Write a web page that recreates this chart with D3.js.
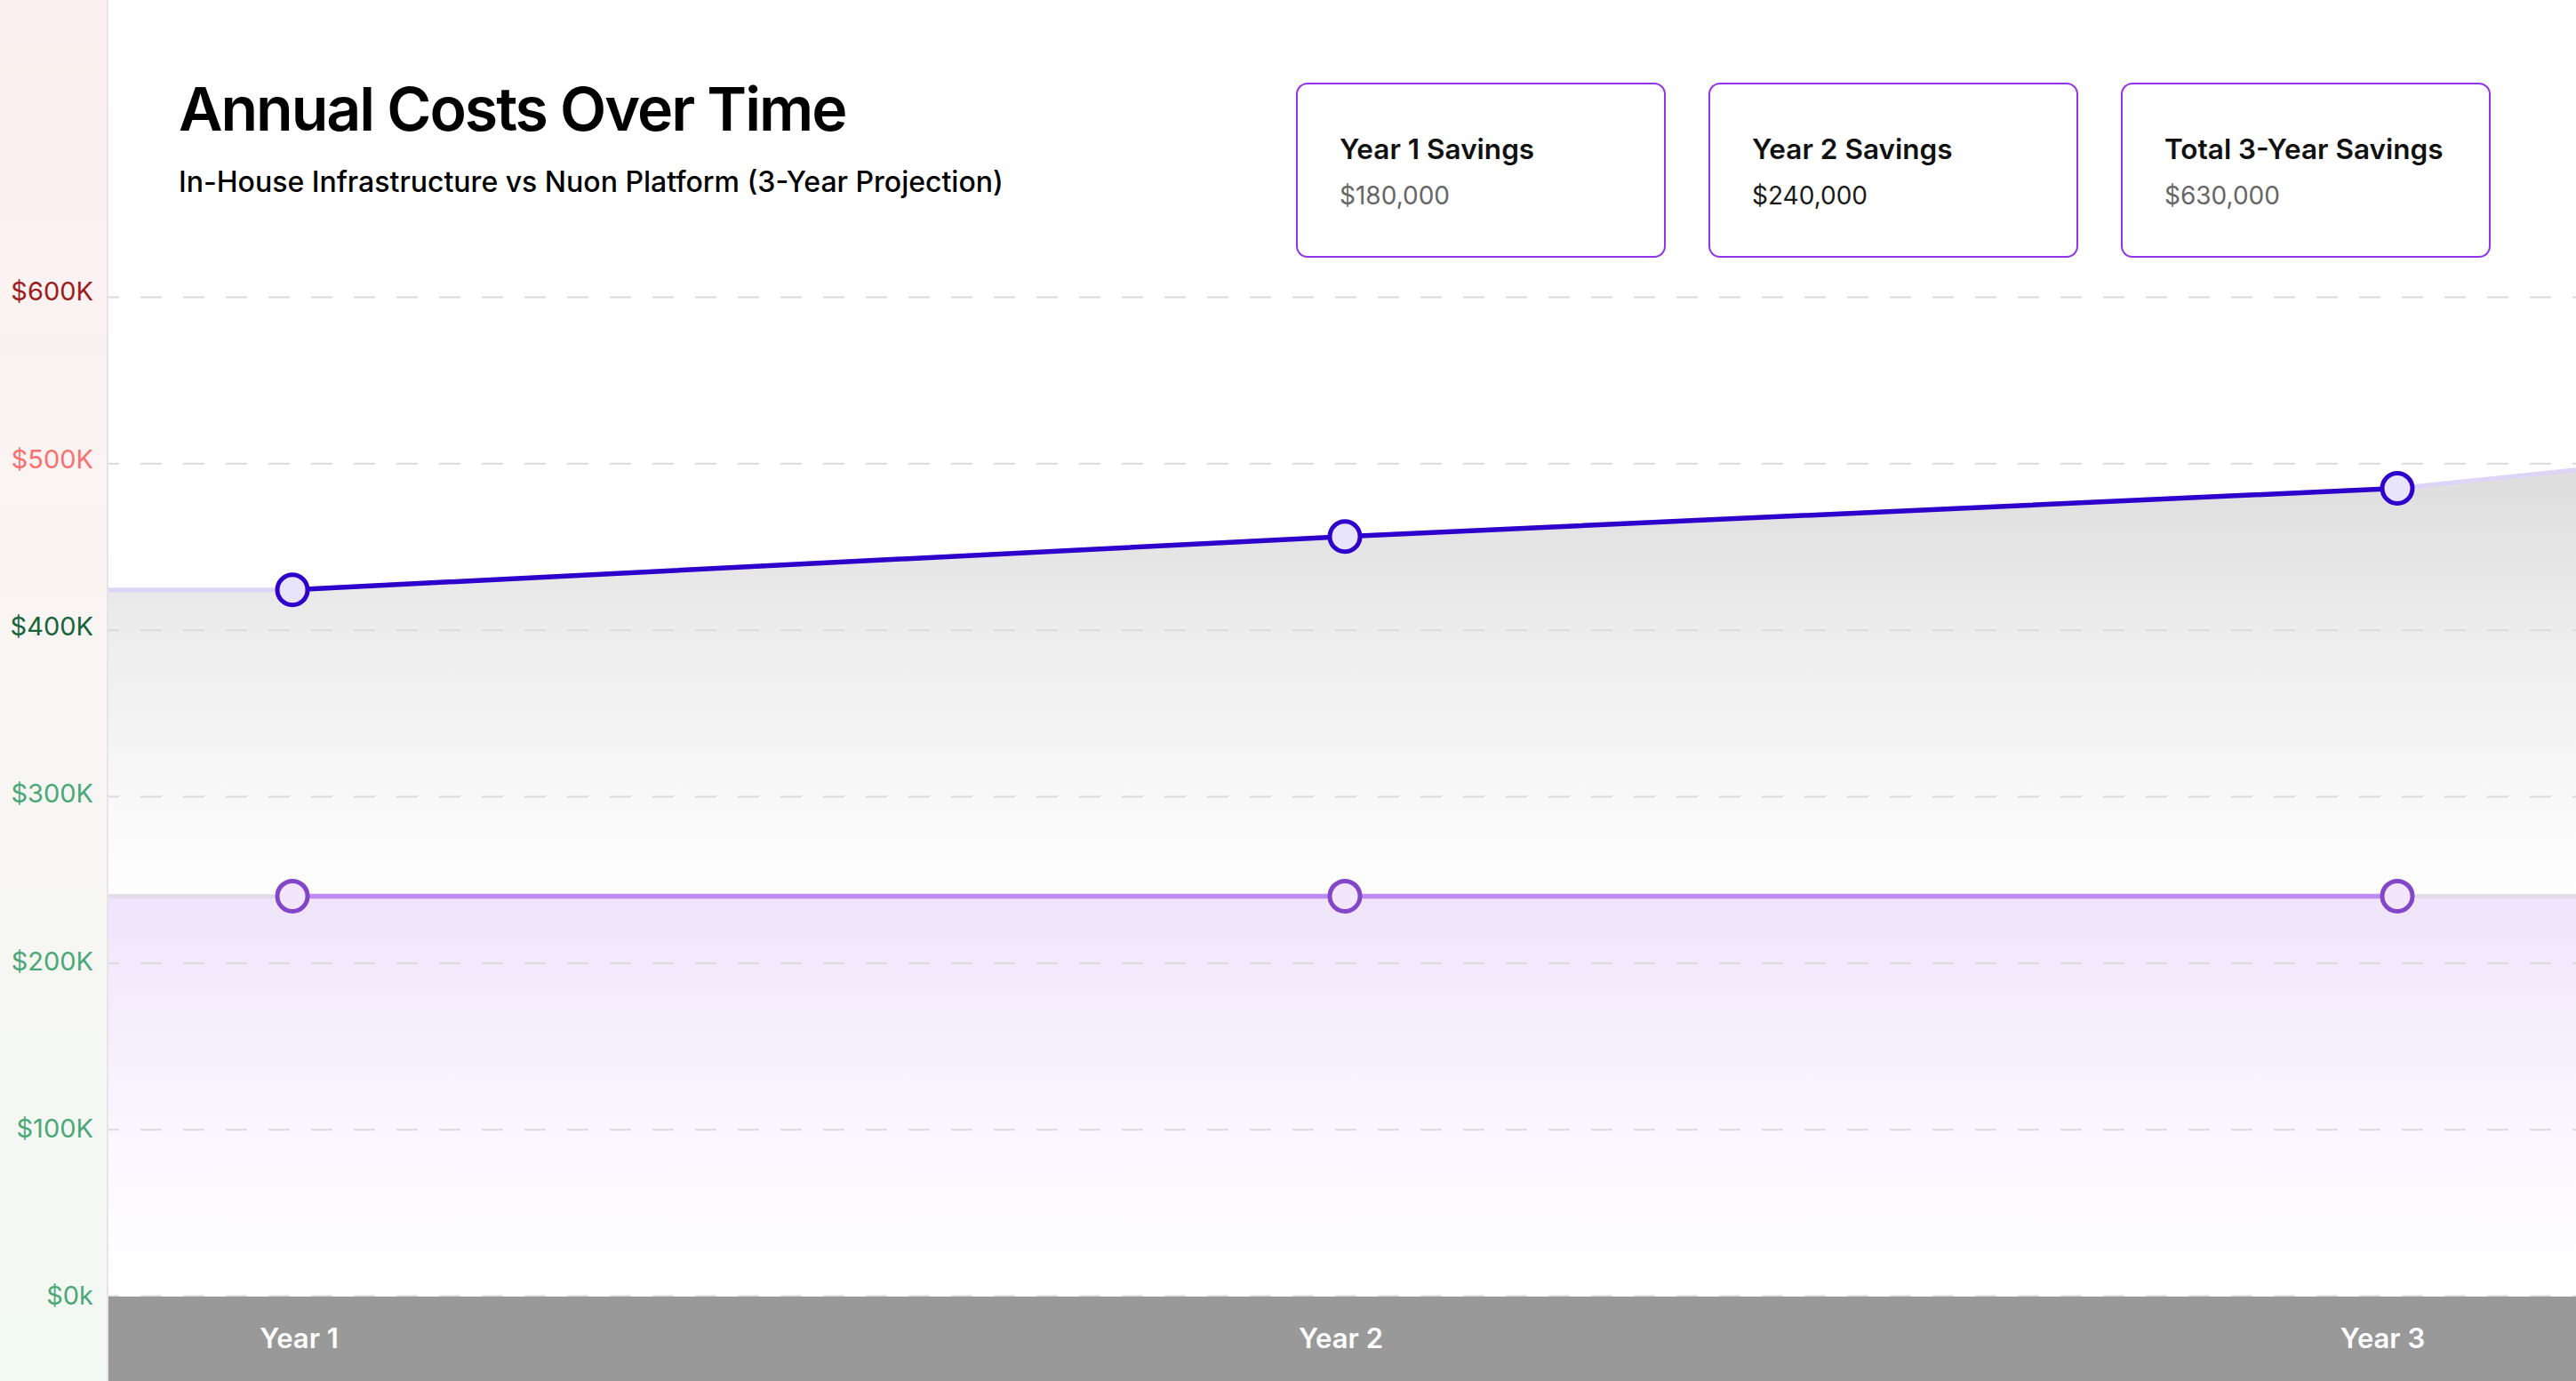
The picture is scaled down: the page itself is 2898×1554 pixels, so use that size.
<!DOCTYPE html>
<html>
<head>
<meta charset="utf-8">
<script src="https://cdn.jsdelivr.net/npm/d3@7"></script>
<style>
  body { margin: 0; background: #fff; font-family: Inter, "Noto Sans", sans-serif; }
</style>
</head>
<body>
<script>
// values
var years = ['Year 1', 'Year 2', 'Year 3'];
var inHouseCost = [424000, 456000, 485000];
var nuonCost = [240000, 240000, 240000];
// where the shaded areas meet the left and right edges of the plot
var inHouseEdge = [424000, 496000];
var nuonEdge = [240000, 240000];
var yTicks = [0, 100000, 200000, 300000, 400000, 500000, 600000];
var yTickLabels = ['$0k', '$100K', '$200K', '$300K', '$400K', '$500K', '$600K'];
var yTickColors = ['#4aa877', '#4aa877', '#4aa877', '#4aa877', '#17643a', '#f87171', '#9b1c1c'];
var cardTitles = ['Year 1 Savings', 'Year 2 Savings', 'Total 3-Year Savings'];
var cardValues = [180000, 240000, 630000];

var W = 2898, H = 1554;
var plotLeft = 122, plotRight = W, plotTop = 334, plotBottom = 1458;

var svg = d3.select('body').append('svg')
    .attr('width', W)
    .attr('height', H);

var defs = svg.append('defs');

var panelGrad = defs.append('linearGradient').attr('id', 'panelGrad')
    .attr('x1', 0).attr('y1', 0).attr('x2', 0).attr('y2', 1);
panelGrad.append('stop').attr('offset', 0).attr('stop-color', '#fdf0f0');
panelGrad.append('stop').attr('offset', 0.5).attr('stop-color', '#f8f5f3');
panelGrad.append('stop').attr('offset', 1).attr('stop-color', '#f2f8f3');

// data points and the axis band labels sit on slightly different point scales
var x = d3.scalePoint().domain(years).range([329, 2697]);
var xLabel = d3.scalePoint().domain(years).range([336, 2680]);
var y = d3.scaleLinear().domain([0, 600000]).range([plotBottom, plotTop]);

var grayGrad = defs.append('linearGradient').attr('id', 'grayGrad')
    .attr('gradientUnits', 'userSpaceOnUse')
    .attr('x1', 0).attr('x2', 0).attr('y1', y(490000)).attr('y2', y(240000));
grayGrad.append('stop').attr('offset', 0).attr('stop-color', '#dedede');
grayGrad.append('stop').attr('offset', 0.35).attr('stop-color', '#ececec');
grayGrad.append('stop').attr('offset', 0.75).attr('stop-color', '#f8f8f8');
grayGrad.append('stop').attr('offset', 1).attr('stop-color', '#fefefe');

var purpleGrad = defs.append('linearGradient').attr('id', 'purpleGrad')
    .attr('gradientUnits', 'userSpaceOnUse')
    .attr('x1', 0).attr('x2', 0).attr('y1', y(240000)).attr('y2', y(0));
purpleGrad.append('stop').attr('offset', 0).attr('stop-color', '#efe4fb');
purpleGrad.append('stop').attr('offset', 0.6).attr('stop-color', '#faf7fe');
purpleGrad.append('stop').attr('offset', 1).attr('stop-color', '#ffffff');

// left label panel
svg.append('rect')
    .attr('x', 0).attr('y', 0)
    .attr('width', plotLeft).attr('height', H)
    .attr('fill', 'url(#panelGrad)');
svg.append('line')
    .attr('x1', plotLeft - 1).attr('x2', plotLeft - 1)
    .attr('y1', 0).attr('y2', H)
    .attr('stroke', '#e6e4e4')
    .attr('stroke-width', 2);

// title
svg.append('text')
    .attr('x', 201).attr('y', 147)
    .attr('font-size', 68)
    .attr('font-weight', 600)
    .attr('letter-spacing', -2)
    .attr('fill', '#000')
    .text('Annual Costs Over Time');
svg.append('text')
    .attr('x', 201).attr('y', 216)
    .attr('font-size', 32)
    .attr('font-weight', 500)
    .attr('fill', '#000')
    .text('In-House Infrastructure vs Nuon Platform (3-Year Projection)');

// savings cards
var fmt = d3.format('$,');
var card = svg.selectAll('g.card')
    .data(cardTitles)
    .enter().append('g')
    .attr('class', 'card')
    .attr('transform', function (d, i) { return 'translate(' + (1459 + i * 464) + ',94)'; });
card.append('rect')
    .attr('width', 414).attr('height', 195)
    .attr('rx', 12)
    .attr('fill', '#fff')
    .attr('stroke', '#9333ea')
    .attr('stroke-width', 2);
card.append('text')
    .attr('x', 48).attr('y', 85)
    .attr('font-size', 31.5)
    .attr('font-weight', 600)
    .attr('fill', '#111')
    .text(function (d) { return d; });
card.append('text')
    .attr('x', 48).attr('y', 136)
    .attr('font-size', 28)
    .attr('fill', function (d, i) { return i == 1 ? '#1a1a1a' : '#666'; })
    .text(function (d, i) { return fmt(cardValues[i]); });

// areas, extended to the plot edges
function edgePoints(values, edge) {
    var pts = [[plotLeft, edge[0]]];
    values.forEach(function (v, i) { pts.push([x(years[i]), v]); });
    pts.push([plotRight, edge[1]]);
    return pts;
}
var area = d3.area()
    .x(function (d) { return d[0]; })
    .y0(y(0))
    .y1(function (d) { return y(d[1]); });
var edgeLine = d3.line()
    .x(function (d) { return d[0]; })
    .y(function (d) { return y(d[1]); });

var inHousePts = edgePoints(inHouseCost, inHouseEdge);
var nuonPts = edgePoints(nuonCost, nuonEdge);

svg.append('path').attr('d', area(inHousePts)).attr('fill', 'url(#grayGrad)');
svg.append('path').attr('d', area(nuonPts)).attr('fill', 'url(#purpleGrad)');

// dashed grid
svg.append('g')
    .attr('transform', 'translate(' + plotLeft + ',0)')
    .call(d3.axisRight(y).tickValues(yTicks).tickSize(plotRight - plotLeft).tickFormat(''))
    .call(function (g) {
        g.select('.domain').remove();
        g.selectAll('line')
            .attr('stroke', '#dadada')
            .attr('stroke-width', 2)
            .attr('stroke-dasharray', '24,24')
            .attr('stroke-dashoffset', 12);
    });

// faint edge strokes
svg.append('path').attr('d', edgeLine(inHousePts))
    .attr('fill', 'none').attr('stroke', '#dcd5f7').attr('stroke-width', 5);
svg.append('path').attr('d', edgeLine(nuonPts))
    .attr('fill', 'none').attr('stroke', '#e2dde8').attr('stroke-width', 5);

// main lines
var line = d3.line()
    .x(function (d, i) { return x(years[i]); })
    .y(function (d) { return y(d); });
svg.append('path').attr('d', line(nuonCost))
    .attr('fill', 'none').attr('stroke', '#bf8bf0').attr('stroke-width', 5.5);
svg.append('path').attr('d', line(inHouseCost))
    .attr('fill', 'none').attr('stroke', '#2f00cc').attr('stroke-width', 5.5);

svg.selectAll('circle.nuon')
    .data(nuonCost)
    .enter().append('circle')
    .attr('class', 'nuon')
    .attr('cx', function (d, i) { return x(years[i]); })
    .attr('cy', function (d) { return y(d); })
    .attr('r', 17)
    .attr('fill', '#f2e5fc')
    .attr('stroke', '#8446c9')
    .attr('stroke-width', 5);
svg.selectAll('circle.inhouse')
    .data(inHouseCost)
    .enter().append('circle')
    .attr('class', 'inhouse')
    .attr('cx', function (d, i) { return x(years[i]); })
    .attr('cy', function (d) { return y(d); })
    .attr('r', 17)
    .attr('fill', '#e8e4fc')
    .attr('stroke', '#2f00cc')
    .attr('stroke-width', 5);

// y labels
svg.append('g')
    .attr('transform', 'translate(105,0)')
    .call(d3.axisLeft(y).tickValues(yTicks).tickSize(0)
        .tickFormat(function (d, i) { return yTickLabels[i]; }))
    .call(function (g) {
        g.select('.domain').remove();
        g.selectAll('text')
            .attr('x', 0)
            .attr('y', function (d) { return 1 - d / 100000; })
            .attr('dy', '0.3em')
            .attr('font-family', 'Inter, sans-serif')
            .attr('font-size', 29)
            .attr('fill', function (d, i) { return yTickColors[i]; });
    });

// x band
svg.append('rect')
    .attr('x', plotLeft).attr('y', plotBottom + 1)
    .attr('width', plotRight - plotLeft).attr('height', H - plotBottom)
    .attr('fill', '#999999');
svg.append('g')
    .attr('transform', 'translate(0,' + (plotBottom + 1) + ')')
    .call(d3.axisBottom(xLabel).tickSize(0))
    .call(function (g) {
        g.select('.domain').remove();
        g.selectAll('text')
            .attr('y', 58)
            .attr('dy', 0)
            .attr('font-family', 'Inter, sans-serif')
            .attr('font-size', 31)
            .attr('font-weight', 600)
            .attr('fill', '#ffffff');
    });
</script>
</body>
</html>
